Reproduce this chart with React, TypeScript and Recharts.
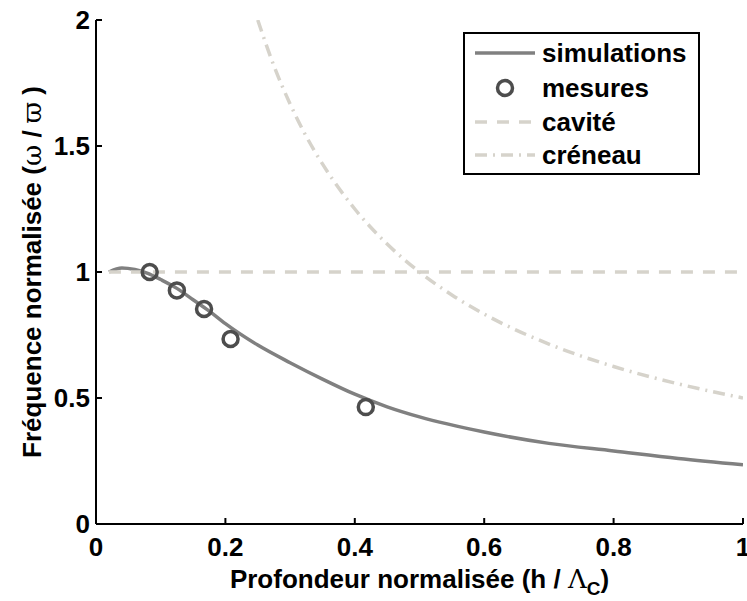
import React from 'react';
import {
  ComposedChart, Line, Scatter, XAxis, YAxis, Legend, Label
} from 'recharts';

const FONT = '"Liberation Sans", Arial, Helvetica, sans-serif';
const SERIF = '"DejaVu Serif", "Liberation Serif", serif';

// simulations (solid grey curve)
const simX = [0.02, 0.04, 0.06, 0.08, 0.1, 0.125, 0.15, 0.175, 0.2, 0.25, 0.3, 0.35, 0.4, 0.45, 0.5, 0.6, 0.7, 0.8, 0.9, 1.0];
const simY = [1.0, 1.016, 1.01, 0.995, 0.97, 0.935, 0.89, 0.845, 0.795, 0.71, 0.64, 0.575, 0.515, 0.465, 0.425, 0.365, 0.32, 0.29, 0.26, 0.235];

// mesures (circles)
const mesX = [0.083, 0.125, 0.167, 0.208, 0.417];
const mesY = [1.0, 0.927, 0.853, 0.734, 0.464];

// cavité (dashed)
const cavX = [0.02, 1.0];
const cavY = [1.0, 1.0];

// créneau (dash-dot)
const creX = [0.25, 0.275, 0.3, 0.325, 0.35, 0.4, 0.45, 0.5, 0.55, 0.6, 0.7, 0.8, 0.9, 1.0];
const creY = [2.0, 1.818, 1.667, 1.538, 1.429, 1.25, 1.111, 1.0, 0.909, 0.833, 0.714, 0.625, 0.556, 0.5];

const xTicks = [0, 0.2, 0.4, 0.6, 0.8, 1];
const yTicks = [0, 0.5, 1, 1.5, 2];

const zip = (xs: number[], ys: number[]) => xs.map((x, i) => ({ x, y: ys[i] }));

const simData = zip(simX, simY);
const mesData = zip(mesX, mesY);
const cavData = zip(cavX, cavY);
const creData = zip(creX, creY);

const SIM_COLOR = '#808080';
const MES_COLOR = '#4d4d4d';
const LIGHT = '#d6d3cb';

const XTick = (props: any) => {
  const { x, y, payload } = props;
  const axisY = y - 14;
  return (
    <g>
      <line x1={x} x2={x} y1={axisY} y2={axisY - 6} stroke="#000" strokeWidth={2} />
      <text x={x} y={y} dy="0.71em" textAnchor="middle" fontFamily={FONT} fontWeight="bold" fontSize={26} fill="#000">
        {String(payload.value)}
      </text>
    </g>
  );
};

const YTick = (props: any) => {
  const { x, y, payload } = props;
  const axisX = x + 6;
  return (
    <g>
      <line x1={axisX} x2={axisX + 6} y1={y} y2={y} stroke="#000" strokeWidth={2} />
      <text x={x} y={y} dy="0.355em" textAnchor="end" fontFamily={FONT} fontWeight="bold" fontSize={26} fill="#000">
        {String(payload.value)}
      </text>
    </g>
  );
};

const MesureDot = (props: any) => {
  const { cx, cy } = props;
  if (cx == null || cy == null) return null;
  return <circle cx={cx} cy={cy} r={7.5} fill="none" stroke={MES_COLOR} strokeWidth={3.5} />;
};

const XTitle = (props: any) => {
  const { viewBox } = props;
  const cx = viewBox.x + viewBox.width / 2;
  return (
    <text x={cx} y={viewBox.y + 64} textAnchor="middle" fontFamily={FONT} fontWeight="bold" fontSize={26} fill="#000">
      Profondeur normalisée (h / <tspan fontFamily={SERIF} fontWeight="normal">Λ</tspan>
      <tspan dy={7} fontSize={19}>C</tspan>
      <tspan dy={-7}>)</tspan>
    </text>
  );
};

const YTitle = (props: any) => {
  const { viewBox } = props;
  const cx = 32;
  const cy = viewBox.y + viewBox.height / 2;
  return (
    <text x={cx} y={cy} textAnchor="middle" dominantBaseline="central" transform={`rotate(-90, ${cx}, ${cy})`}
      fontFamily={FONT} fontWeight="bold" fontSize={26} fill="#000">
      Fréquence normalisée (<tspan fontFamily={SERIF} fontWeight="normal">ω</tspan> / <tspan fontFamily={SERIF} fontWeight="normal">ϖ</tspan> )
    </text>
  );
};

const legendRows = [
  { name: 'simulations', kind: 'line' },
  { name: 'mesures', kind: 'dot' },
  { name: 'cavité', kind: 'dash' },
  { name: 'créneau', kind: 'dashdot' },
];

const LegendBox = () => {
  const w = 237;
  const h = 143;
  const rowY = [21, 56, 90, 123];
  return (
    <svg width={w} height={h} style={{ display: 'block' }}>
      <rect x={1} y={1} width={w - 2} height={h - 2} fill="#fff" stroke="#000" strokeWidth={2} />
      {legendRows.map((r, i) => {
        const y = rowY[i];
        let sym: React.ReactNode = null;
        if (r.kind === 'line') sym = <line x1={12} x2={72} y1={y} y2={y} stroke={SIM_COLOR} strokeWidth={3.5} />;
        if (r.kind === 'dot') sym = <circle cx={42} cy={y} r={7.5} fill="none" stroke={MES_COLOR} strokeWidth={3.5} />;
        if (r.kind === 'dash') sym = <line x1={12} x2={72} y1={y} y2={y} stroke={LIGHT} strokeWidth={3.5} strokeDasharray="12 10" />;
        if (r.kind === 'dashdot') sym = <line x1={12} x2={72} y1={y} y2={y} stroke={LIGHT} strokeWidth={3.5} strokeDasharray="12 6 2 6" />;
        return (
          <g key={r.name}>
            {sym}
            <text x={79} y={y} dy="0.355em" fontFamily={FONT} fontWeight="bold" fontSize={26} fill="#000">{r.name}</text>
          </g>
        );
      })}
    </svg>
  );
};

export default function App() {
  return (
    <div style={{ position: 'absolute', left: 0, top: 0, width: 747, height: 601, background: '#fff' }}>
      <ComposedChart width={747} height={601} margin={{ top: 20, right: 4, left: 0, bottom: 0 }}>
        <XAxis
          dataKey="x"
          type="number"
          domain={[0, 1]}
          ticks={xTicks}
          allowDataOverflow
          height={77}
          tickSize={0}
          tickMargin={14}
          tickLine={false}
          axisLine={{ stroke: '#000', strokeWidth: 2 }}
          tick={<XTick />}
          interval={0}
        >
          <Label content={<XTitle />} />
        </XAxis>
        <YAxis
          type="number"
          domain={[0, 2]}
          ticks={yTicks}
          allowDataOverflow
          width={96}
          tickSize={0}
          tickMargin={6}
          tickLine={false}
          axisLine={{ stroke: '#000', strokeWidth: 2 }}
          tick={<YTick />}
          interval={0}
        >
          <Label content={<YTitle />} />
        </YAxis>
        <Legend
          layout="horizontal"
          verticalAlign="middle"
          align="center"
          content={<LegendBox />}
          wrapperStyle={{ position: 'absolute', left: 463, top: 32, width: 237, height: 143 }}
        />
        <Line data={simData} dataKey="y" name="simulations" type="monotone" stroke={SIM_COLOR} strokeWidth={3.5} dot={false} isAnimationActive={false} />
        <Scatter data={mesData} dataKey="y" name="mesures" shape={<MesureDot />} isAnimationActive={false} />
        <Line data={cavData} dataKey="y" name="cavité" type="linear" stroke={LIGHT} strokeWidth={3.5} strokeDasharray="12 10" dot={false} isAnimationActive={false} />
        <Line data={creData} dataKey="y" name="créneau" type="monotone" stroke={LIGHT} strokeWidth={3.5} strokeDasharray="12 6 2 6" dot={false} isAnimationActive={false} />
      </ComposedChart>
    </div>
  );
}
